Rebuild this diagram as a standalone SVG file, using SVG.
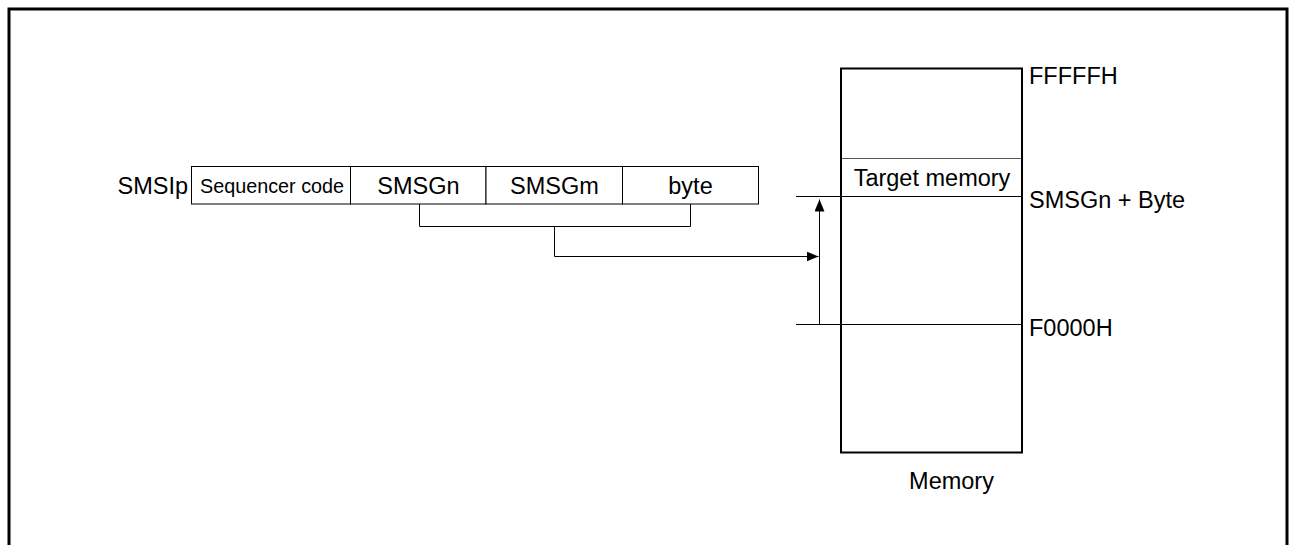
<svg xmlns="http://www.w3.org/2000/svg" width="1292" height="545" viewBox="0 0 1292 545">
<style>
text{font-family:"Liberation Sans",Arial,sans-serif;font-size:23.5px;fill:#000}
.c{text-anchor:middle}
.box{fill:#fff;stroke:#000;stroke-width:1}
.ln{fill:none;stroke:#000;stroke-width:1}
</style>
<defs>
<marker id="ah" viewBox="0 0 12 10" refX="12" refY="5" markerWidth="12" markerHeight="10" markerUnits="userSpaceOnUse" orient="auto">
<path d="M0,0 L12,5 L0,10 Z" fill="#000"/>
</marker>
</defs>
<rect x="0" y="0" width="1292" height="545" fill="#fff"/>
<path d="M9,560 V9 H1287 V560" fill="none" stroke="#000" stroke-width="3"/>
<g id="register">
<text x="188" y="193.5" text-anchor="end">SMSIp</text>
<rect class="box" x="191.5" y="166.5" width="159" height="37.5"/>
<rect class="box" x="350.5" y="166.5" width="135.5" height="37.5"/>
<rect class="box" x="486" y="166.5" width="136.5" height="37.5"/>
<rect class="box" x="622.5" y="166.5" width="136" height="37.5"/>
<text class="c" x="272" y="192.5" style="font-size:19.8px">Sequencer code</text>
<text class="c" x="418.5" y="193.5">SMSGn</text>
<text class="c" x="554.5" y="193.5">SMSGm</text>
<text class="c" x="690.5" y="193.5">byte</text>
</g>
<g id="memory">
<rect x="841" y="68.5" width="181" height="384" fill="#fff" stroke="#000" stroke-width="2"/>
<line x1="842" y1="158.5" x2="1021" y2="158.5" stroke="#555" stroke-width="1"/>
<text class="c" x="932" y="185.5">Target memory</text>
<text class="c" x="951.5" y="489">Memory</text>
<text x="1029" y="83.5">FFFFFH</text>
<text x="1029" y="207.5">SMSGn + Byte</text>
<text x="1029" y="335.5">F0000H</text>
</g>
<g id="connectors">
<line class="ln" x1="796" y1="196.5" x2="1021" y2="196.5"/>
<line class="ln" x1="796" y1="324.5" x2="1021" y2="324.5"/>
<path class="ln" d="M419.5,204 V226.5 H690.5 V204"/>
<path class="ln" d="M554.5,226.5 V256.5 H818.5" marker-end="url(#ah)"/>
<line class="ln" x1="819.5" y1="324.5" x2="819.5" y2="199.5" marker-end="url(#ah)"/>
</g>
</svg>
